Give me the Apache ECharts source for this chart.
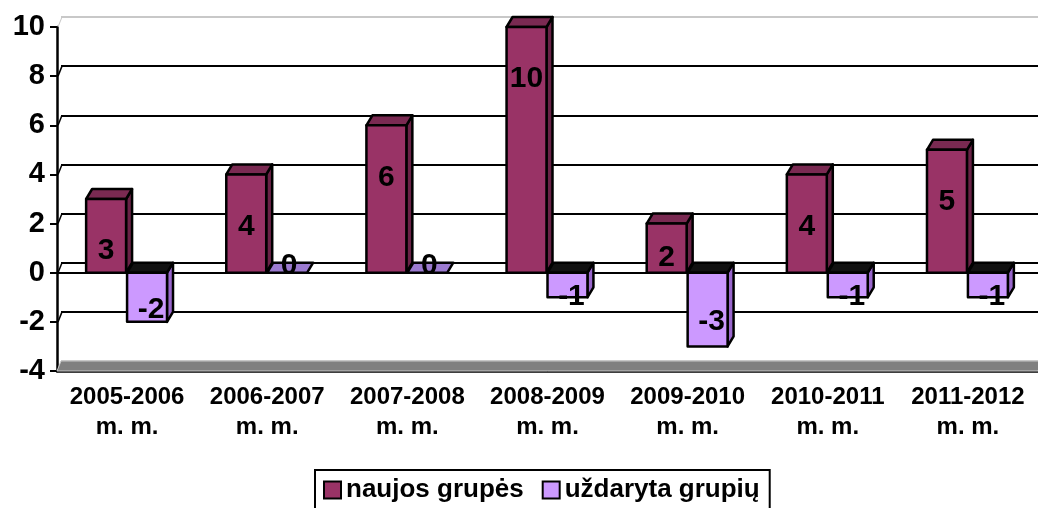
<!DOCTYPE html>
<html>
<head>
<meta charset="UTF-8">
<title>naujos grupės / uždaryta grupių</title>
<script src="https://cdn.jsdelivr.net/npm/echarts@6/dist/echarts.min.js"></script>
<style>
  html, body { margin: 0; padding: 0; background: #fff; }
  #main { width: 1038px; height: 508px; }
</style>
</head>
<body>
<div id="main"></div>
<script type="text/javascript">
    // data
    var categories = ['2005-2006\nm. m.', '2006-2007\nm. m.', '2007-2008\nm. m.', '2008-2009\nm. m.',
        '2009-2010\nm. m.', '2010-2011\nm. m.', '2011-2012\nm. m.'];
    var newGroups = [3, 4, 6, 10, 2, 4, 5];
    var closedGroups = [-2, 0, 0, -1, -3, -1, -1];
    var seriesNames = ['naujos grupės', 'uždaryta grupių'];
    var yMin = -4, yMax = 10, yStep = 2;

    var font = '"Liberation Sans", Arial, sans-serif';
    var depthX = 6, depthY = -10;
    var colors = [
        {front: '#993366', top: '#7a2a52', side: '#6a2246', flat: '#7a2a52'},
        {front: '#cc99ff', top: '#111111', side: '#9966cc', flat: '#9b7ad0'}
    ];

    // 3D-looking bar, drawn from the axis coordinates
    function makeBar(si) {
        return function (params, api) {
            var i = api.value(0), v = api.value(1);
            var c = colors[si];
            var base = api.coord([i, 0]);
            var top = api.coord([i, v]);
            var cw = api.size([1, 0])[0];
            var w = cw * 0.285;
            var x0 = si === 0 ? base[0] - w - 1 : base[0];
            var x1 = x0 + w;
            var zy = base[1], vy = top[1];
            var st = {stroke: '#000', lineWidth: 2.5, lineJoin: 'round'};
            var kids = [];
            var txt = function (x, y, s) {
                return {type: 'text', z2: 10, style: {x: x, y: y, text: s, fill: '#000',
                    font: 'bold 30px ' + font, align: 'center', verticalAlign: 'middle'}};
            };
            if (v > 0) {
                kids.push({type: 'polygon', shape: {points: [[x1, vy], [x1 + depthX, vy + depthY], [x1 + depthX, zy + depthY], [x1, zy]]},
                    style: Object.assign({fill: c.side}, st)});
                kids.push({type: 'polygon', shape: {points: [[x0, vy], [x0 + depthX, vy + depthY], [x1 + depthX, vy + depthY], [x1, vy]]},
                    style: Object.assign({fill: c.top}, st)});
                kids.push({type: 'rect', shape: {x: x0, y: vy, width: w, height: zy - vy},
                    style: Object.assign({fill: c.front}, st)});
                kids.push(txt((x0 + x1) / 2, Math.min(vy + 52, zy - 15), String(v)));
            } else if (v < 0) {
                var h = vy - zy;
                kids.push({type: 'polygon', shape: {points: [[x1, zy], [x1 + depthX, zy + depthY], [x1 + depthX, vy + depthY], [x1, vy]]},
                    style: Object.assign({fill: c.side}, st)});
                kids.push({type: 'polygon', shape: {points: [[x0, zy], [x0 + depthX, zy + depthY], [x1 + depthX, zy + depthY], [x1, zy]]},
                    style: Object.assign({fill: c.top}, st)});
                kids.push({type: 'rect', shape: {x: x0, y: zy, width: w, height: h},
                    style: Object.assign({fill: c.front}, st)});
                kids.push(txt((x0 + x1) / 2 + 4, zy + Math.min(h, 24 + (h - 24) * 0.5), String(v)));
            } else {
                kids.push({type: 'polygon', shape: {points: [[x0, zy], [x0 + depthX, zy + depthY], [x1 + depthX, zy + depthY], [x1, zy]]},
                    style: Object.assign({fill: c.flat}, st)});
                kids.push(txt((x0 + x1) / 2 + 2, zy - 7, '0'));
            }
            return {type: 'group', children: kids};
        };
    }

    // grey floor and the small left-wall marks of the 3D box
    function renderFloor(params, api) {
        var cs = params.coordSys;
        var fy = api.coord([0, yMin])[1];
        var kids = [
            {type: 'polygon', shape: {points: [[cs.x, fy], [cs.x + 4, fy + depthY], [cs.x + cs.width + 4, fy + depthY], [cs.x + cs.width, fy]]},
                style: {fill: '#808080', stroke: '#c8c8c8', lineWidth: 1}}
        ];
        for (var t = yMin + yStep; t <= yMax; t += yStep) {
            var ty = api.coord([0, t])[1];
            kids.push({type: 'line', shape: {x1: cs.x + 1, y1: ty, x2: cs.x + 5, y2: ty + depthY},
                style: {stroke: t === yMax ? '#c8c8c8' : '#000', lineWidth: t === yMax ? 1 : 1.5}});
        }
        return {type: 'group', children: kids};
    }

    var myChart = echarts.init(document.getElementById('main'));
    var option = {
        animation: false,
        backgroundColor: '#fff',
        textStyle: {fontFamily: font},
        legend: {
            left: 315,
            top: 470,
            padding: [7, 10, 10, 8],
            borderColor: '#000',
            borderWidth: 2,
            itemWidth: 17,
            itemHeight: 17,
            itemGap: 18,
            selectedMode: false,
            textStyle: {fontSize: 26, fontWeight: 'bold', color: '#000', fontFamily: font},
            data: [
                {name: seriesNames[0], icon: 'rect', itemStyle: {color: colors[0].front, borderColor: '#000', borderWidth: 2}},
                {name: seriesNames[1], icon: 'rect', itemStyle: {color: colors[1].front, borderColor: '#000', borderWidth: 2}}
            ]
        },
        grid: [
            {left: 57, right: -6, top: 27, bottom: 137},
            {left: 61, right: -10, top: 17, bottom: 147}
        ],
        xAxis: [
            {
                type: 'category', gridIndex: 0, data: categories, position: 'top',
                axisLine: {onZero: true, lineStyle: {color: '#000', width: 2}},
                axisTick: {inside: true, length: 6, lineStyle: {color: '#000', width: 2}},
                axisLabel: {show: false},
                splitLine: {show: false}
            },
            {
                type: 'category', gridIndex: 0, data: categories, position: 'bottom',
                axisLine: {onZero: false, lineStyle: {color: '#000', width: 2.5}},
                axisTick: {length: 6, lineStyle: {color: '#000', width: 2}},
                axisLabel: {
                    margin: 11, color: '#000', fontSize: 24, fontWeight: 'bold',
                    lineHeight: 30, fontFamily: font, interval: 0
                },
                splitLine: {show: false}
            },
            {
                type: 'category', gridIndex: 1, data: categories,
                axisLine: {show: false}, axisTick: {show: false}, axisLabel: {show: false}
            }
        ],
        yAxis: [
            {
                type: 'value', gridIndex: 0, min: yMin, max: yMax, interval: yStep,
                axisLine: {show: true, lineStyle: {color: '#000', width: 2.5}},
                axisTick: {show: true, length: 7, lineStyle: {color: '#000', width: 2}},
                axisLabel: {margin: 12, color: '#000', fontSize: 29, fontWeight: 'bold', fontFamily: font},
                splitLine: {show: false}
            },
            {
                type: 'value', gridIndex: 1, min: yMin, max: yMax, interval: yStep,
                axisLine: {show: false},
                axisTick: {show: false},
                axisLabel: {show: false},
                splitLine: {
                    show: true,
                    lineStyle: {
                        color: ['#c8c8c8', '#000', '#000', '#000', '#000', '#000', '#000', '#c8c8c8'],
                        width: 2
                    }
                }
            }
        ],
        series: [
            {
                name: 'floor', type: 'custom', xAxisIndex: 0, yAxisIndex: 0, silent: true,
                renderItem: renderFloor, data: [[0, yMin]], z: 1
            },
            {
                name: seriesNames[0], type: 'custom', xAxisIndex: 0, yAxisIndex: 0,
                itemStyle: {color: colors[0].front},
                renderItem: makeBar(0), encode: {x: 0, y: 1},
                data: newGroups.map(function (v, i) { return [i, v]; }), z: 3
            },
            {
                name: seriesNames[1], type: 'custom', xAxisIndex: 0, yAxisIndex: 0,
                itemStyle: {color: colors[1].front},
                renderItem: makeBar(1), encode: {x: 0, y: 1},
                data: closedGroups.map(function (v, i) { return [i, v]; }), z: 4
            }
        ]
    };
    myChart.setOption(option);
</script>
</body>
</html>
